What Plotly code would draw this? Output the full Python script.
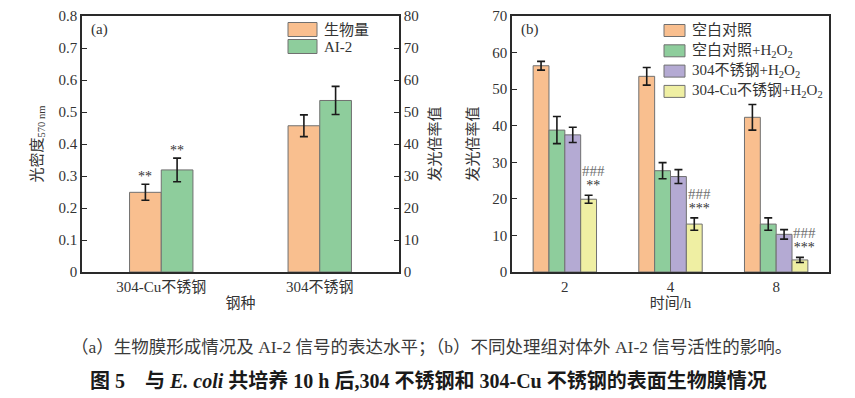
import plotly.graph_objects as go

W, H = 855, 398

# ---------------- data ----------------
steel_types = ["304-Cu不锈钢", "304不锈钢"]
biomass = [0.249, 0.457]
biomass_err = [0.025, 0.034]
ai2 = [31.9, 53.6]
ai2_err = [3.7, 4.4]
biomass_sig = ["**", ""]
ai2_sig = ["**", ""]

times = ["2", "4", "8"]
blank = [56.4, 53.5, 42.3]
blank_err = [1.2, 2.4, 3.5]
blank_h2o2 = [38.8, 27.7, 13.1]
blank_h2o2_err = [3.7, 2.2, 1.7]
s304_h2o2 = [37.5, 26.1, 10.3]
s304_h2o2_err = [2.1, 1.9, 1.3]
s304cu_h2o2 = [19.9, 13.1, 3.3]
s304cu_h2o2_err = [1.1, 1.7, 0.7]
cu_sig_star = ["**", "***", "***"]
cu_sig_hash = ["###", "###", "###"]

legend_a = ["生物量", "AI-2"]
legend_b = ["空白对照", "空白对照+H<sub>2</sub>O<sub>2</sub>",
            "304不锈钢+H<sub>2</sub>O<sub>2</sub>", "304-Cu不锈钢+H<sub>2</sub>O<sub>2</sub>"]

ORANGE = "#F9BF8F"
GREEN = "#8ECD9C"
PURPLE = "#B4AAD3"
YELLOW = "#EFEFA3"
EDGE = "#707070"
AX = "#2a2a2a"
TXT = "#333333"
FONT = "Liberation Serif, Noto Sans CJK SC, serif"

# ---------------- layout geometry ----------------
def px(x):
    return x / W

def py(y):
    return 1 - y / H

xa_dom = [px(82), px(399)]
xb_dom = [px(512), px(829)]
y_dom = [py(272), py(16)]

fig = go.Figure()

err_style = dict(type="data", color="#1a1a1a", thickness=1.6, width=4)

# panel a
fig.add_trace(go.Bar(x=steel_types, y=biomass, name=legend_a[0], xaxis="x", yaxis="y",
                     width=0.2, offset=-0.2, marker=dict(color=ORANGE, line=dict(color=EDGE, width=1)),
                     error_y=dict(array=biomass_err, **err_style), showlegend=False))
fig.add_trace(go.Bar(x=steel_types, y=ai2, name=legend_a[1], xaxis="x", yaxis="y2",
                     width=0.2, offset=0.0, marker=dict(color=GREEN, line=dict(color=EDGE, width=1)),
                     error_y=dict(array=ai2_err, **err_style), showlegend=False))

# panel b
series_b = [(blank, blank_err, ORANGE), (blank_h2o2, blank_h2o2_err, GREEN),
            (s304_h2o2, s304_h2o2_err, PURPLE), (s304cu_h2o2, s304cu_h2o2_err, YELLOW)]
bw = 0.15
for i, (vals, errs, col) in enumerate(series_b):
    fig.add_trace(go.Bar(x=times, y=vals, name=legend_b[i], xaxis="x2", yaxis="y3",
                         width=bw, offset=-0.3 + i * bw,
                         marker=dict(color=col, line=dict(color=EDGE, width=1)),
                         error_y=dict(array=errs, **err_style), showlegend=False))

annotations = []
# significance marks panel a
for i, s in enumerate(biomass_sig):
    if s:
        annotations.append(dict(x=i, y=biomass[i] + biomass_err[i], xref="x", yref="y",
                                text=s, showarrow=False, xshift=-0.1 * 158.5, yshift=8,
                                yanchor="middle", font=dict(family=FONT, size=14, color=TXT)))
for i, s in enumerate(ai2_sig):
    if s:
        annotations.append(dict(x=i, y=ai2[i] + ai2_err[i], xref="x", yref="y2",
                                text=s, showarrow=False, xshift=0.1 * 158.5, yshift=8,
                                yanchor="middle", font=dict(family=FONT, size=14, color=TXT)))
# significance marks panel b (### above *, one two-line text)
for i in range(len(times)):
    top = s304cu_h2o2[i] + s304cu_h2o2_err[i]
    xs = 0.225 * 105.7 + 5
    txt = ("<span style='font-size:15px;color:#707070'>" + cu_sig_hash[i] + "</span><br>"
           "<span style='font-size:14px;color:#333333'>" + cu_sig_star[i] + "</span>")
    annotations.append(dict(x=i, y=top, xref="x2", yref="y3", text=txt,
                            showarrow=False, xshift=xs, yshift=17, yanchor="middle",
                            font=dict(family=FONT, size=11, color=TXT)))

# panel labels
annotations.append(dict(x=px(89), y=py(29), xref="paper", yref="paper", text="(a)",
                        showarrow=False, xanchor="left", yanchor="middle",
                        font=dict(family=FONT, size=15, color=TXT)))
annotations.append(dict(x=px(519), y=py(29), xref="paper", yref="paper", text="(b)",
                        showarrow=False, xanchor="left", yanchor="middle",
                        font=dict(family=FONT, size=15, color=TXT)))

# manual legends
shapes = []
def legend_item(x0, yc, w, h, col, label):
    shapes.append(dict(type="rect", xref="paper", yref="paper",
                       x0=px(x0), x1=px(x0 + w), y0=py(yc + h / 2), y1=py(yc - h / 2),
                       fillcolor=col, line=dict(color=EDGE, width=1)))
    annotations.append(dict(x=px(x0 + w + 5), y=py(yc), xref="paper", yref="paper", text=label,
                            showarrow=False, xanchor="left", yanchor="middle",
                            font=dict(family=FONT, size=15, color=TXT)))

legend_item(288, 29.5, 29, 14, ORANGE, legend_a[0])
legend_item(288, 46.5, 29, 14, GREEN, legend_a[1])
for i, col in enumerate([ORANGE, GREEN, PURPLE, YELLOW]):
    legend_item(664, 30.5 + i * 20.3, 21, 12, col, legend_b[i])

# captions
annotations.append(dict(x=px(431), y=py(347), xref="paper", yref="paper",
                        text="（a）生物膜形成情况及 AI-2 信号的表达水平；（b）不同处理组对体外 AI-2 信号活性的影响。",
                        showarrow=False, xanchor="center", yanchor="middle",
                        font=dict(family=FONT, size=17.5, color="#3a3a3a")))
annotations.append(dict(x=px(428), y=py(380), xref="paper", yref="paper",
                        text="<b>图 5　与 <i>E. coli</i> 共培养 10 h 后,304 不锈钢和 304-Cu 不锈钢的表面生物膜情况</b>",
                        showarrow=False, xanchor="center", yanchor="middle",
                        font=dict(family=FONT, size=20, color="#1a1a1a")))

axis_common = dict(showline=True, linecolor=AX, linewidth=1.5, showgrid=False, zeroline=False,
                   automargin=False, tickfont=dict(family=FONT, size=15, color=TXT))
ytick = dict(ticks="inside", ticklen=5, tickwidth=1.2, tickcolor=AX)
title_font = dict(family=FONT, size=15, color=TXT)

fig.update_layout(
    width=W, height=H,
    margin=dict(l=0, r=0, t=0, b=0),
    paper_bgcolor="white", plot_bgcolor="white",
    barmode="overlay",
    showlegend=False,
    font=dict(family=FONT, color=TXT),
    xaxis=dict(domain=xa_dom, anchor="y", type="category", range=[-0.5, 1.5], mirror=True,
               ticks="", title=dict(text="钢种", font=title_font, standoff=4), **axis_common),
    yaxis=dict(domain=y_dom, anchor="x", range=[0, 0.8], dtick=0.1, mirror=True,
               title=dict(text="光密度<sub>570 nm</sub>", font=title_font, standoff=12),
               **ytick, **axis_common),
    yaxis2=dict(overlaying="y", anchor="x", side="right", range=[0, 80], dtick=10,
                title=dict(text="发光倍率值", font=title_font, standoff=12),
                **ytick, **axis_common),
    xaxis2=dict(domain=xb_dom, anchor="y3", type="category", range=[-0.5, 2.5], mirror=True,
                ticks="", title=dict(text="时间/h", font=title_font, standoff=4), **axis_common),
    yaxis3=dict(domain=y_dom, anchor="x2", range=[0, 70], dtick=10, mirror=True,
                title=dict(text="发光倍率值", font=title_font, standoff=10),
                **ytick, **axis_common),
    annotations=annotations,
    shapes=shapes,
)

fig.write_html("out.html", config={"displayModeBar": False},
               post_script="document.body.style.margin='0px';")
